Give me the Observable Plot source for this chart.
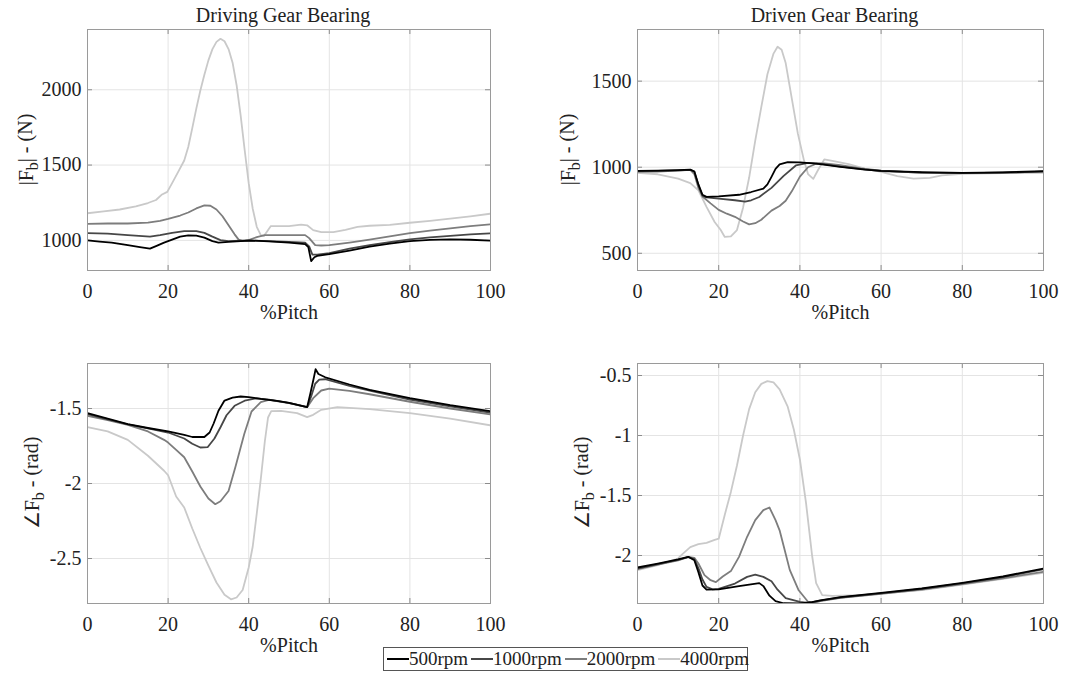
<!DOCTYPE html>
<html>
<head>
<meta charset="utf-8">
<script src="https://cdn.jsdelivr.net/npm/d3@7"></script>
<script src="https://cdn.jsdelivr.net/npm/@observablehq/plot@0.6"></script>
<style>
  html, body { margin: 0; padding: 0; background: #fff; }
  #root { position: relative; width: 1076px; height: 674px; background: #fff; font-family: "Liberation Serif", serif; color: #222; }
  #root svg, #root svg text, #root svg tspan, #root svg g { font-family: "Liberation Serif", serif !important; }
  .panel { position: absolute; }
  #legend { position: absolute; left: 383px; top: 647px; width: 363px; height: 22px; border: 1px solid #555; background: #fff; display: flex; align-items: center; font-size: 19px; box-sizing: content-box; }
  .item { display: flex; align-items: center; }
  .swatch { width: 22px; height: 0; border-top: 2px solid; margin-left: 3px; }
</style>
</head>
<body>
<div id="root"><div id="legend"></div></div>
<script>
// ---------- data ----------
const seriesNames = ["500rpm", "1000rpm", "2000rpm", "4000rpm"];
const xTicks = [0, 20, 40, 60, 80, 100];
const titles = ["Driving Gear Bearing", "Driven Gear Bearing"];

// Driving gear bearing |Fb| (N)
const driveMag500 = [[0,1000],[3,992],[6,985],[10,968],[13,955],[15.5,945],[17,962],[19,985],[21,1005],[23,1025],[25,1033],[27,1032],[29,1018],[31,995],[32.5,985],[35,990],[38,995],[40,999],[45,994],[50,985],[54,975],[54.8,955],[55.5,862],[56.3,888],[57,897],[60,908],[65,932],[70,958],[75,978],[80,995],[85,1003],[90,1006],[95,1004],[100,998]];
const driveMag1000 = [[0,1048],[5,1045],[10,1035],[15.5,1025],[18,1035],[21,1050],[24,1062],[27,1062],[29,1050],[31,1025],[33,1002],[35,995],[38,998],[40,1000],[45,995],[50,990],[54,985],[55,960],[55.8,905],[57,905],[60,915],[65,945],[70,968],[75,988],[80,1007],[85,1020],[90,1030],[95,1040],[100,1047]];
const driveMag2000 = [[0,1110],[5,1112],[10,1112],[15,1118],[18,1130],[20,1142],[23,1165],[25,1185],[27,1212],[29,1232],[30.5,1230],[32,1205],[33.5,1160],[35,1100],[36.5,1040],[37.5,1005],[38.5,995],[40,1002],[42,1022],[44,1035],[50,1035],[54,1035],[55,1015],[56.5,968],[58,966],[60,968],[65,985],[70,1005],[75,1027],[80,1048],[85,1065],[90,1080],[95,1095],[100,1107]];
const driveMag4000 = [[0,1180],[4,1192],[8,1205],[12,1225],[15,1248],[17,1268],[18.5,1305],[19.8,1322],[21,1380],[22.5,1455],[24,1530],[25,1620],[26,1745],[27,1875],[28,1995],[29,2100],[30,2195],[31,2270],[32,2318],[33,2338],[34,2322],[35,2270],[36,2180],[37,2030],[38,1830],[39,1600],[40,1380],[41,1210],[42,1090],[43,1035],[43.8,1030],[44.6,1060],[45.5,1095],[50,1095],[53,1105],[54.5,1100],[56,1068],[58,1055],[61,1055],[64,1070],[67,1090],[70,1097],[75,1103],[80,1117],[85,1130],[90,1145],[95,1160],[100,1177]];

// Driven gear bearing |Fb| (N)
const drivenMag500 = [[0,979],[5,980],[10,983],[13,986],[14,975],[15,900],[16,840],[17,828],[20,831],[25,840],[28,856],[31,875],[32,900],[33,944],[34,990],[35,1016],[37,1030],[40,1028],[44,1021],[50,1002],[56,986],[60,979],[70,971],[80,967],[90,970],[100,977]];
const drivenMag1000 = [[0,978],[5,979],[10,982],[13,985],[14,975],[15,895],[16,835],[17,825],[20,818],[24,808],[26.5,800],[28,808],[30,827],[33,880],[36,950],[39,1010],[42,1025],[45,1021],[50,1004],[56,988],[60,978],[70,968],[80,966],[90,968],[100,975]];
const drivenMag2000 = [[0,973],[5,975],[10,980],[13,985],[14,960],[15,880],[16,830],[18,790],[20,752],[22,730],[24,712],[26,685],[27.5,668],[29,675],[30.5,695],[33,748],[35,775],[36.5,805],[38,860],[40,945],[42,1000],[44,1020],[46,1022],[50,1012],[55,993],[60,980],[70,967],[80,966],[90,968],[100,975]];
const drivenMag4000 = [[0,967],[5,959],[10,934],[13,908],[15,866],[17,770],[19,682],[20.5,635],[21.5,595],[23,598],[24.5,635],[26,765],[27.5,940],[29,1155],[30.5,1350],[32,1540],[33.5,1660],[34.5,1700],[35.5,1682],[36.5,1605],[38,1400],[39.5,1195],[41,1040],[42,960],[43.3,932],[44.5,985],[46,1045],[48,1037],[52,1018],[56,992],[60,973],[64,948],[68,934],[72,938],[75,952],[80,962],[90,966],[100,967]];

// Driving gear bearing angle (rad)
const driveAng500 = [[0,-1.531],[5,-1.567],[10,-1.604],[15,-1.630],[20,-1.653],[24,-1.676],[26,-1.690],[29,-1.690],[30.3,-1.660],[31.3,-1.600],[32.5,-1.515],[34,-1.447],[36,-1.427],[38,-1.420],[40,-1.424],[43,-1.436],[47,-1.449],[50,-1.462],[54.5,-1.491],[55.3,-1.400],[56.2,-1.290],[56.6,-1.238],[57.3,-1.270],[59,-1.292],[65,-1.340],[70,-1.376],[80,-1.431],[90,-1.478],[100,-1.518]];
const driveAng1000 = [[0,-1.538],[5,-1.572],[10,-1.606],[15,-1.632],[20,-1.660],[24,-1.700],[26,-1.735],[28,-1.760],[29.8,-1.758],[31.5,-1.700],[33,-1.625],[34.5,-1.545],[36.5,-1.482],[39,-1.448],[42,-1.432],[45,-1.441],[50,-1.463],[54.5,-1.491],[55.5,-1.42],[56.5,-1.335],[57.5,-1.308],[59,-1.305],[65,-1.349],[70,-1.380],[80,-1.440],[90,-1.485],[100,-1.527]];
const driveAng2000 = [[0,-1.549],[5,-1.578],[10,-1.609],[15,-1.653],[19,-1.709],[20,-1.727],[22,-1.776],[24,-1.825],[26,-1.920],[28,-2.020],[30,-2.100],[31.7,-2.138],[33,-2.118],[35,-2.050],[36.7,-1.890],[38.9,-1.670],[40.7,-1.520],[43,-1.458],[45,-1.443],[50,-1.464],[54.5,-1.491],[56,-1.431],[58,-1.380],[60,-1.368],[65,-1.383],[70,-1.405],[80,-1.455],[90,-1.500],[100,-1.540]];
const driveAng4000 = [[0,-1.624],[5,-1.653],[10,-1.709],[15,-1.815],[19,-1.915],[20,-1.945],[22,-2.087],[24,-2.160],[26,-2.300],[28,-2.430],[30,-2.548],[32,-2.660],[34,-2.742],[35.6,-2.772],[37,-2.760],[38.5,-2.710],[40,-2.560],[41,-2.420],[42,-2.200],[43,-1.970],[44,-1.720],[44.8,-1.560],[45.6,-1.518],[48,-1.516],[52,-1.531],[54.5,-1.558],[56,-1.542],[58,-1.509],[62,-1.491],[70,-1.504],[80,-1.531],[90,-1.568],[100,-1.612]];

// Driven gear bearing angle (rad)
const drivenAng500 = [[0,-2.100],[5,-2.067],[10,-2.033],[12.5,-2.011],[14,-2.040],[15,-2.140],[16,-2.250],[17,-2.285],[20,-2.282],[25,-2.256],[30,-2.230],[31,-2.255],[32.5,-2.335],[34,-2.380],[36,-2.398],[40,-2.400],[43,-2.388],[45,-2.374],[50,-2.347],[60,-2.311],[70,-2.275],[80,-2.228],[90,-2.175],[100,-2.108]];
const drivenAng1000 = [[0,-2.109],[5,-2.072],[10,-2.037],[12.5,-2.013],[14,-2.030],[15,-2.105],[16,-2.200],[17,-2.262],[18.5,-2.282],[20,-2.278],[24,-2.234],[27,-2.178],[29,-2.160],[31,-2.178],[33,-2.215],[34.5,-2.285],[36.5,-2.355],[40,-2.386],[42,-2.395],[45,-2.376],[50,-2.350],[60,-2.315],[70,-2.279],[80,-2.232],[90,-2.180],[100,-2.115]];
const drivenAng2000 = [[0,-2.114],[5,-2.077],[10,-2.040],[12.5,-2.011],[14,-2.020],[15,-2.067],[16.5,-2.164],[18,-2.206],[19.3,-2.222],[21,-2.175],[23,-2.130],[25,-2.011],[27,-1.844],[29,-1.705],[31,-1.622],[32.5,-1.600],[34,-1.705],[35,-1.790],[36,-1.920],[37.5,-2.120],[39.7,-2.290],[42,-2.385],[43.5,-2.395],[45,-2.380],[50,-2.352],[60,-2.320],[70,-2.285],[80,-2.238],[90,-2.190],[100,-2.136]];
const drivenAng4000 = [[0,-2.122],[5,-2.081],[10,-2.025],[11,-1.990],[13,-1.930],[15,-1.905],[17,-1.895],[19,-1.870],[20,-1.860],[21.5,-1.660],[23,-1.470],[24.5,-1.250],[26,-1.000],[27.5,-0.780],[29,-0.640],[30.5,-0.570],[32,-0.547],[33.5,-0.558],[35,-0.615],[37,-0.760],[38.5,-0.950],[40,-1.200],[41.5,-1.560],[43,-2.000],[44,-2.230],[45.5,-2.330],[48,-2.337],[55,-2.330],[60,-2.315],[70,-2.288],[80,-2.242],[90,-2.195],[100,-2.144]];

const yTicksDriveMag = [1000, 1500, 2000];
const yTicksDrivenMag = [500, 1000, 1500];
const yTicksDriveAng = [-2.5, -2, -1.5];
const yTicksDrivenAng = [-2, -1.5, -1, -0.5];

// ---------- styles ----------
const colors = ["#000000", "#474747", "#7d7d7d", "#c9c9c9"];
const FONT = '"Liberation Serif", serif';
const TEXT = "#222";

const panels = [
  {series: [driveMag500, driveMag1000, driveMag2000, driveMag4000], yDomain: [800, 2400], yTicks: yTicksDriveMag, title: titles[0],
   ylab: ["|F", "b", "| - (N)"], left: 0, top: 0, width: 538, height: 330, ml: 87, mr: 48, mt: 29, mb: 60, labX: 33},
  {series: [drivenMag500, drivenMag1000, drivenMag2000, drivenMag4000], yDomain: [400, 1800], yTicks: yTicksDrivenMag, title: titles[1],
   ylab: ["|F", "b", "| - (N)"], left: 538, top: 0, width: 538, height: 330, ml: 99, mr: 33, mt: 29, mb: 60, labX: 37},
  {series: [driveAng500, driveAng1000, driveAng2000, driveAng4000], yDomain: [-2.8, -1.2], yTicks: yTicksDriveAng, title: null,
   ylab: ["\u2220F", "b", " - (rad)"], left: 0, top: 330, width: 538, height: 344, ml: 87, mr: 48, mt: 33, mb: 71, labX: 39},
  {series: [drivenAng500, drivenAng1000, drivenAng2000, drivenAng4000], yDomain: [-2.4, -0.4], yTicks: yTicksDrivenAng, title: null,
   ylab: ["\u2220F", "b", " - (rad)"], left: 538, top: 330, width: 538, height: 344, ml: 99, mr: 33, mt: 33, mb: 71, labX: 51}
];

const root = document.getElementById("root");

for (const p of panels) {
  const ph = p.height - p.mt - p.mb;
  const pw = p.width - p.ml - p.mr;
  const marks = [
    Plot.gridX(xTicks, {stroke: "#e4e4e4", strokeOpacity: 1}),
    Plot.gridY(p.yTicks, {stroke: "#e4e4e4", strokeOpacity: 1}),
    Plot.tickX(xTicks, {x: d => d, insetTop: ph - 5, stroke: "#8c8c8c"}),
    Plot.tickX(xTicks, {x: d => d, insetBottom: ph - 5, stroke: "#8c8c8c"}),
    Plot.tickY(p.yTicks, {y: d => d, insetRight: pw - 5, stroke: "#8c8c8c"}),
    Plot.tickY(p.yTicks, {y: d => d, insetLeft: pw - 5, stroke: "#8c8c8c"}),
    Plot.axisX(xTicks, {tickSize: 0, tickPadding: 13, fontSize: 20, fontFamily: FONT, tickFormat: d => String(d), label: null, fill: TEXT}),
    Plot.axisY(p.yTicks, {tickSize: 0, tickPadding: 6, fontSize: 20, fontFamily: FONT, tickFormat: d => String(d), label: null, fill: TEXT}),
  ];
  for (let i = p.series.length - 1; i >= 0; i--) {
    marks.push(Plot.line(p.series[i], {x: d => d[0], y: d => d[1], stroke: colors[i], strokeWidth: 1.8, clip: true}));
  }
  marks.push(Plot.frame({stroke: "#9a9a9a", strokeWidth: 1}));
  marks.push(Plot.text(["%Pitch"], {text: d => d, frameAnchor: "bottom", dy: 48, lineAnchor: "bottom", fontSize: 20, fontFamily: FONT, fill: TEXT}));
  if (p.title) {
    marks.push(Plot.text([p.title], {text: d => d, frameAnchor: "top", dy: -8, dx: -6, lineAnchor: "bottom", fontSize: 20, fontFamily: FONT, fill: TEXT}));
  }
  const svg = Plot.plot({
    width: p.width, height: p.height,
    marginLeft: p.ml, marginRight: p.mr, marginTop: p.mt, marginBottom: p.mb,
    x: {domain: [0, 100]},
    y: {domain: p.yDomain},
    style: {fontFamily: FONT, fontSize: "20px", color: TEXT, background: "transparent", overflow: "visible"},
    marks
  });
  const cy = p.mt + ph / 2;
  const t = d3.select(svg).append("text")
    .attr("transform", `translate(${p.labX},${cy}) rotate(-90)`)
    .attr("text-anchor", "middle")
    .attr("fill", TEXT)
    .attr("font-family", FONT)
    .attr("font-size", 20);
  t.append("tspan").text(p.ylab[0]);
  t.append("tspan").attr("dy", "0.32em").attr("font-size", 16).text(p.ylab[1]);
  t.append("tspan").attr("dy", "-0.32em").text(p.ylab[2]);
  const div = document.createElement("div");
  div.className = "panel";
  div.style.left = p.left + "px";
  div.style.top = p.top + "px";
  div.appendChild(svg);
  root.appendChild(div);
}

// legend
const legend = document.getElementById("legend");
root.appendChild(legend);
seriesNames.forEach((name, i) => {
  const item = document.createElement("div");
  item.className = "item";
  const sw = document.createElement("div");
  sw.className = "swatch";
  sw.style.borderTopColor = colors[i];
  const lab = document.createElement("span");
  lab.textContent = name;
  item.appendChild(sw);
  item.appendChild(lab);
  legend.appendChild(item);
});
</script>
</body>
</html>
